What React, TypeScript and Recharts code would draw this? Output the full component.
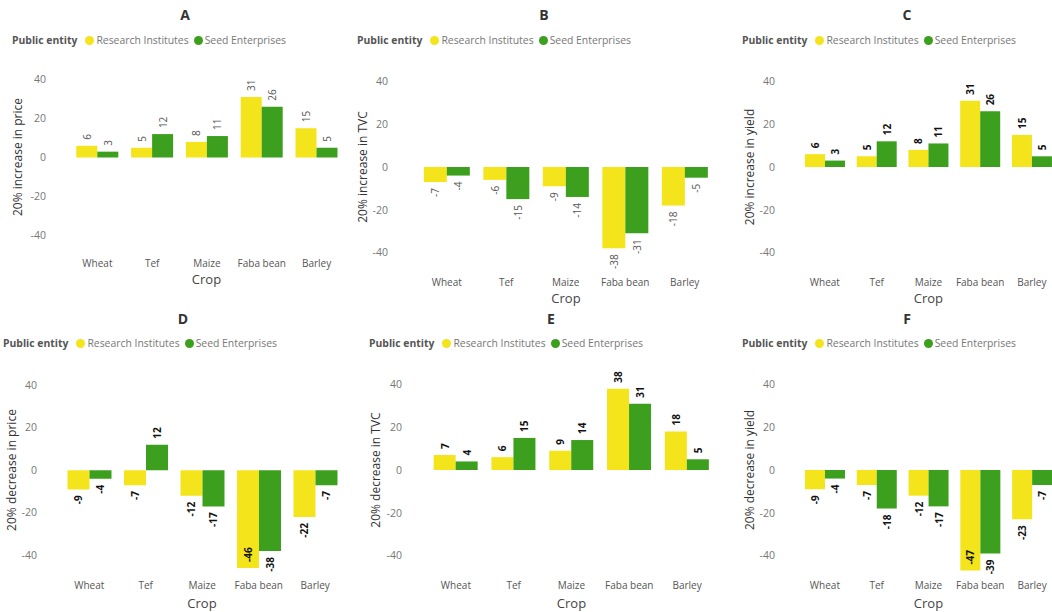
import React from "react";
import { BarChart, Bar, XAxis, YAxis } from "recharts";

const crops = ["Wheat", "Tef", "Maize", "Faba bean", "Barley"];
const yTicks = [-40, -20, 0, 20, 40];

const researchA = [6, 5, 8, 31, 15];
const seedA = [3, 12, 11, 26, 5];
const researchB = [-7, -6, -9, -38, -18];
const seedB = [-4, -15, -14, -31, -5];
const researchC = [6, 5, 8, 31, 15];
const seedC = [3, 12, 11, 26, 5];
const researchD = [-9, -7, -12, -46, -22];
const seedD = [-4, 12, -17, -38, -7];
const researchE = [7, 6, 9, 38, 18];
const seedE = [4, 15, 14, 31, 5];
const researchF = [-9, -7, -12, -47, -23];
const seedF = [-4, -18, -17, -39, -7];

const titles = ["A", "B", "C", "D", "E", "F"];
const yLabels = [
  "20% increase in price",
  "20% increase in TVC",
  "20% increase in yield",
  "20% decrease in price",
  "20% decrease in TVC",
  "20% decrease in yield",
];
const seriesNames = ["Research Institutes", "Seed Enterprises"];
const legendTitle = "Public entity";
const xTitle = "Crop";

const YELLOW = "#F3E41B";
const GREEN = "#3C9F1E";
const FONT = "'Open Sans', 'Noto Sans', sans-serif";

const build = (r: number[], s: number[]) =>
  crops.map((c, i) => ({ crop: c, research: r[i], seed: s[i] }));

const datasets = [
  build(researchA, seedA),
  build(researchB, seedB),
  build(researchC, seedC),
  build(researchD, seedD),
  build(researchE, seedE),
  build(researchF, seedF),
];

// layout (page coordinates)
const layouts = [
  { left: 69.5, right: 343.5, top: 59.5, bottom: 254.5, tickGap: 24, titleX: 185, titleY: 15, legX: 12, legY: 40, yLabX: 18, cropY: 279, bold: false },
  { left: 417.25, right: 714.75, top: 60, bottom: 274, tickGap: 29, titleX: 544, titleY: 15, legX: 357, legY: 40, yLabX: 363, cropY: 298, bold: false },
  { left: 799, right: 1057.75, top: 60, bottom: 274, tickGap: 24, titleX: 907, titleY: 15, legX: 742, legY: 40, yLabX: 750, cropY: 298, bold: true },
  { left: 60.75, right: 343.25, top: 363.75, bottom: 576.25, tickGap: 24, titleX: 183, titleY: 319, legX: 3, legY: 343, yLabX: 12, cropY: 603, bold: true },
  { left: 427, right: 716, top: 363, bottom: 577, tickGap: 25, titleX: 551, titleY: 319, legX: 369, legY: 343, yLabX: 376, cropY: 603, bold: true },
  { left: 799, right: 1058, top: 363, bottom: 577, tickGap: 24, titleX: 907, titleY: 319, legX: 742, legY: 343, yLabX: 750, cropY: 603, bold: true },
];

const Y_AXIS_W = 60;
const M_TOP = 10;
const X_AXIS_H = 22;

const makeLabel = (bold: boolean, plotBottom: number) => (props: any) => {
  const { x, y, width, height, value } = props;
  if (value === undefined || value === null) return null;
  const cx = Number(x) + Number(width) / 2;
  const top = Math.min(Number(y), Number(y) + Number(height));
  const bot = Math.max(Number(y), Number(y) + Number(height));
  const txt = String(value);
  const len = txt.length * 5.6;
  const gap = 6;
  let ty: number;
  let anchor: "start" | "end";
  if (value >= 0) {
    ty = top - gap;
    anchor = "start";
  } else if (bot + gap + len > plotBottom + 2) {
    ty = bot - gap;
    anchor = "start";
  } else {
    ty = bot + gap;
    anchor = "end";
  }
  return (
    <text
      x={cx}
      y={ty}
      transform={`rotate(-90 ${cx} ${ty})`}
      textAnchor={anchor}
      dominantBaseline="central"
      fontSize={10}
      fontWeight={bold ? 700 : 400}
      fill={bold ? "#111" : "#555"}
      fontFamily={FONT}
    >
      {txt}
    </text>
  );
};

const Dot = ({ color }: { color: string }) => (
  <span
    style={{
      display: "inline-block",
      width: 9,
      height: 9,
      borderRadius: "50%",
      background: color,
      marginRight: 2,
    }}
  />
);

const Panel = ({ idx }: { idx: number }) => {
  const L = layouts[idx];
  const plotW = L.right - L.left;
  const plotH = L.bottom - L.top;
  const chartW = plotW + Y_AXIS_W;
  const chartH = plotH + M_TOP + X_AXIS_H;
  const plotBottomSvg = M_TOP + plotH;
  const label = makeLabel(L.bold, plotBottomSvg);
  const centerY = (L.top + L.bottom) / 2;
  const centerX = (L.left + L.right) / 2;
  return (
    <>
      <div
        style={{
          position: "absolute",
          left: L.titleX - 20,
          width: 40,
          top: L.titleY - 10,
          height: 20,
          lineHeight: "20px",
          textAlign: "center",
          fontWeight: 700,
          fontSize: 14,
          color: "#333",
        }}
      >
        {titles[idx]}
      </div>
      <div
        style={{
          position: "absolute",
          left: L.legX,
          top: L.legY - 9,
          height: 18,
          display: "flex",
          alignItems: "center",
          whiteSpace: "nowrap",
          fontSize: 10.4,
        }}
      >
        <span style={{ fontWeight: 700, color: "#555", marginRight: 8 }}>{legendTitle}</span>
        <Dot color={YELLOW} />
        <span style={{ color: "#777", marginRight: 5 }}>{seriesNames[0]}</span>
        <Dot color={GREEN} />
        <span style={{ color: "#777" }}>{seriesNames[1]}</span>
      </div>
      <div
        style={{
          position: "absolute",
          left: L.yLabX - 100,
          top: centerY - 9,
          width: 200,
          height: 18,
          lineHeight: "18px",
          textAlign: "center",
          transform: "rotate(-90deg)",
          fontSize: 12,
          color: "#333",
          whiteSpace: "nowrap",
        }}
      >
        {yLabels[idx]}
      </div>
      <div
        style={{
          position: "absolute",
          left: centerX - 40,
          width: 80,
          top: L.cropY - 10,
          height: 20,
          lineHeight: "20px",
          textAlign: "center",
          fontSize: 13,
          color: "#444",
        }}
      >
        {xTitle}
      </div>
      <div style={{ position: "absolute", left: L.left - Y_AXIS_W, top: L.top - M_TOP }}>
        <BarChart
          width={chartW}
          height={chartH}
          data={datasets[idx]}
          margin={{ top: M_TOP, right: 0, bottom: 0, left: 0 }}
          barCategoryGap="11.5%"
          barGap={0}
        >
          <XAxis
            dataKey="crop"
            axisLine={false}
            tickLine={false}
            tickSize={0}
            tickMargin={5}
            height={X_AXIS_H}
            interval={0}
            tick={{ fontSize: 10, fill: "#555", fontFamily: FONT }}
          />
          <YAxis
            domain={[-50, 50]}
            ticks={yTicks}
            axisLine={false}
            tickLine={false}
            tickSize={0}
            tickMargin={L.tickGap}
            width={Y_AXIS_W}
            allowDataOverflow
            tick={{ fontSize: 10.5, fill: "#777", fontFamily: FONT }}
          />
          <Bar dataKey="research" name={seriesNames[0]} fill={YELLOW} isAnimationActive={false} label={label} />
          <Bar dataKey="seed" name={seriesNames[1]} fill={GREEN} isAnimationActive={false} label={label} />
        </BarChart>
      </div>
    </>
  );
};

export default function App() {
  return (
    <div
      style={{
        position: "absolute",
        left: 0,
        top: 0,
        width: 1052,
        height: 612,
        overflow: "hidden",
        background: "#fff",
        fontFamily: FONT,
      }}
    >
      {[0, 1, 2, 3, 4, 5].map((i) => (
        <Panel key={i} idx={i} />
      ))}
    </div>
  );
}
